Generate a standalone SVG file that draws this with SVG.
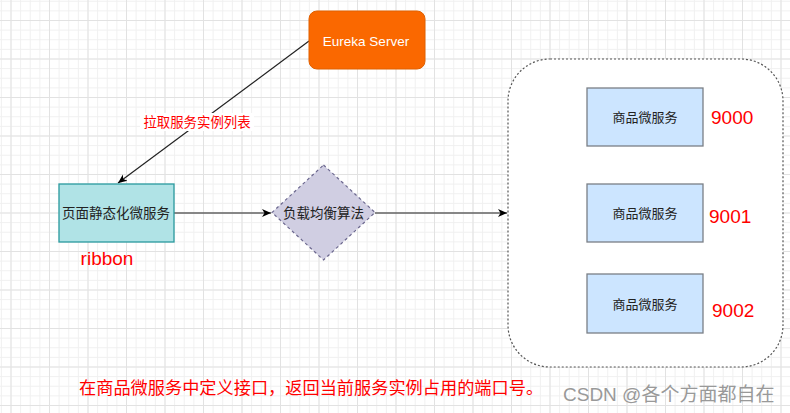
<svg xmlns="http://www.w3.org/2000/svg" width="790" height="413" viewBox="0 0 790 413">
<defs>
<pattern id="minor" x="10.5" y="20" width="9.625" height="9.625" patternUnits="userSpaceOnUse">
<path d="M0.5 0V9.625M0 0.5H9.625" fill="none" stroke="#f0f0f0" stroke-width="1"/>
</pattern>
<pattern id="major" x="10.5" y="20" width="38.5" height="38.5" patternUnits="userSpaceOnUse">
<path d="M0.5 0V38.5M0 0.5H38.5" fill="none" stroke="#e2e2e2" stroke-width="1"/>
</pattern>
<marker id="arr" markerWidth="10" markerHeight="10" refX="9" refY="5" orient="auto" markerUnits="userSpaceOnUse">
<path d="M0,1 L9,5 L0,9 L2.5,5 Z" fill="#000"/>
</marker>
</defs>
<style>
.lbl{font-family:"Liberation Sans","Noto Sans CJK SC",sans-serif;font-size:13.5px;fill:#222;text-anchor:middle;dominant-baseline:central}
.red{font-family:"Liberation Sans","Noto Sans CJK SC",sans-serif;fill:#ff0000;dominant-baseline:central}
.svc{fill:#cce5ff;stroke:#7a7f86;stroke-width:1.3}
.edge{fill:none;stroke:#222;stroke-width:1.2}
</style>
<rect width="790" height="413" fill="#fff"/>
<rect width="790" height="413" fill="url(#minor)"/>
<rect width="790" height="413" fill="url(#major)"/>

<g id="container">
<rect x="508" y="59" width="275" height="308" rx="42" fill="#fff" stroke="#555" stroke-width="1.2" stroke-dasharray="2 2"/>
</g>

<g id="edges">
<path class="edge" d="M309 41 L118 183" marker-end="url(#arr)"/>
<rect x="140" y="113" width="114" height="18" fill="#fff"/>
<text class="red" x="197" y="122" font-size="13.4" text-anchor="middle">拉取服务实例列表</text>
<path class="edge" d="M174 213 L271 213" marker-end="url(#arr)"/>
<path class="edge" d="M375 213 L507 213" marker-end="url(#arr)"/>
</g>

<g id="eureka">
<rect x="309" y="11" width="116" height="58" rx="8" fill="#fa6800" stroke="#e06000" stroke-width="1"/>
<text class="lbl" x="366" y="41" style="fill:#fff">Eureka Server</text>
</g>

<g id="page">
<rect x="59" y="184" width="115" height="58" fill="#b0e3e6" stroke="#2a9a9f" stroke-width="1.3"/>
<text class="lbl" x="116" y="213">页面静态化微服务</text>
<text class="red" x="107" y="258" font-size="19" text-anchor="middle">ribbon</text>
</g>

<g id="lb">
<path d="M323.5 165 L375 212.5 L323.5 260 L272 212.5 Z" fill="#d0cee2" stroke="#6b678e" stroke-width="1.2" stroke-dasharray="3 3"/>
<text class="lbl" x="323.5" y="213">负载均衡算法</text>
</g>

<g id="svc1">
<rect class="svc" x="587" y="88" width="116" height="58"/>
<text class="lbl" x="645" y="117" style="font-size:13px">商品微服务</text>
<text class="red" x="711" y="117" font-size="19">9000</text>
</g>
<g id="svc2">
<rect class="svc" x="587" y="184" width="116" height="58"/>
<text class="lbl" x="645" y="213" style="font-size:13px">商品微服务</text>
<text class="red" x="709" y="216" font-size="19">9001</text>
</g>
<g id="svc3">
<rect class="svc" x="587" y="274" width="116" height="59"/>
<text class="lbl" x="645" y="304" style="font-size:13px">商品微服务</text>
<text class="red" x="712" y="310" font-size="19">9002</text>
</g>

<g id="notes">
<text class="red" x="79" y="388" font-size="17.2">在商品微服务中定义接口，返回当前服务实例占用的端口号。</text>
<text x="563" y="394" font-family="Liberation Sans,Noto Sans CJK SC,sans-serif" font-size="19" fill="#999" dominant-baseline="central">CSDN @各个方面都自在</text>
</g>
</svg>
